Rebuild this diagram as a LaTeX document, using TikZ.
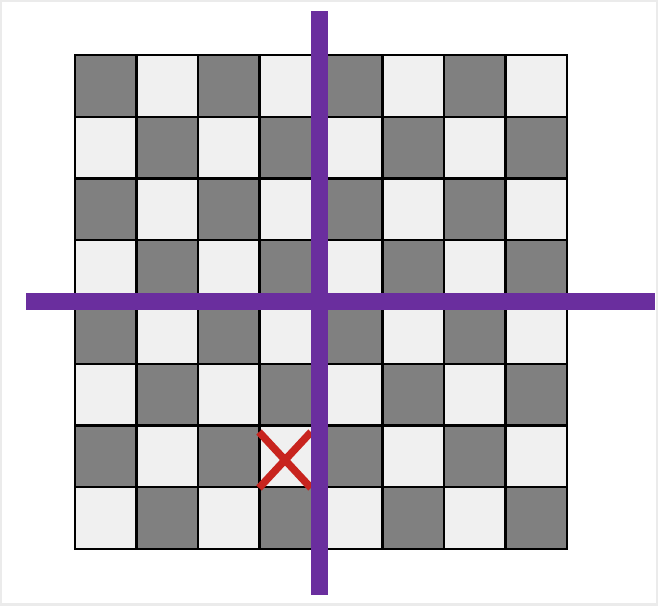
\documentclass[tikz,border=0pt]{standalone}
\definecolor{darksq}{HTML}{808080}
\definecolor{lightsq}{HTML}{F0F0F0}
\definecolor{cutline}{HTML}{6A2E9E}
\definecolor{markred}{HTML}{C8241E}
\begin{document}
\begin{tikzpicture}[x=0.02cm,y=-0.02cm]
	\useasboundingbox (0,0) rectangle (658,605);
	\fill[white] (0,0) rectangle (658,605);
	\draw[black!8, line width=0.08cm] (0,0) rectangle (658,605);

	% board
	\foreach \i in {0,...,7}
		\foreach \j in {0,...,7} {
			\pgfmathtruncatemacro{\parity}{mod(\i+\j,2)}
			\ifnum\parity=0 \def\sq{darksq}\else\def\sq{lightsq}\fi
			\draw[fill=\sq, line width=0.045cm] (75+61.5*\i,55+61.75*\j) rectangle ++(61.5,61.75);
		}

	% marked square
	\draw[markred, line width=0.15cm] (259,432) -- (311,488) (259,488) -- (311,432);

	% cut lines
	\draw[cutline, line width=0.34cm] (26,301) -- (655,301);
	\draw[cutline, line width=0.34cm] (319,11) -- (319,595);

\end{tikzpicture}
\end{document}
